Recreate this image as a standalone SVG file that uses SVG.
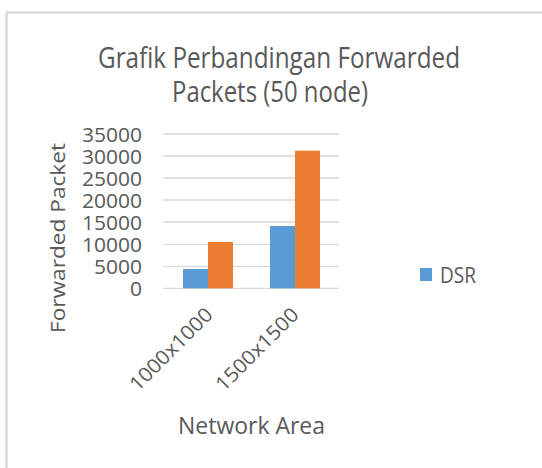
<svg xmlns="http://www.w3.org/2000/svg" width="542" height="468" viewBox="0 0 542 468">
<style>
text{font-family:"Open Sans","Liberation Sans",sans-serif;fill:#595959;}
.grid{stroke:#d9d9d9;stroke-width:1.3;}
.ylab{font-size:20.5px;text-anchor:end;}
.xlab{font-size:20px;text-anchor:end;}
.blue{fill:#5b9bd5;}
.orange{fill:#ed7d31;}
</style>
<rect x="0" y="0" width="542" height="468" fill="#ffffff"/>
<g id="frame">
<line x1="6.5" y1="12.5" x2="6.5" y2="468" stroke="#d9d9d9" stroke-width="2.5"/>
<line x1="6" y1="12.5" x2="542" y2="12.5" stroke="#d9d9d9" stroke-width="2.5"/>
</g>
<g id="title">
<text x="98" y="67.7" font-size="30" textLength="362" lengthAdjust="spacingAndGlyphs">Grafik Perbandingan Forwarded</text>
<text x="172" y="101.7" font-size="30" textLength="196" lengthAdjust="spacingAndGlyphs">Packets (50 node)</text>
</g>
<g id="gridlines">
<line class="grid" x1="163" y1="134" x2="339" y2="134"/>
<line class="grid" x1="163" y1="156" x2="339" y2="156"/>
<line class="grid" x1="163" y1="178" x2="339" y2="178"/>
<line class="grid" x1="163" y1="200" x2="339" y2="200"/>
<line class="grid" x1="163" y1="222" x2="339" y2="222"/>
<line class="grid" x1="163" y1="244.3" x2="339" y2="244.3"/>
<line class="grid" x1="163" y1="266.3" x2="339" y2="266.3"/>
<line class="grid" x1="163" y1="288.3" x2="339" y2="288.3"/>
</g>
<g id="y-axis">
<text class="ylab" x="142" y="141.5" textLength="60" lengthAdjust="spacingAndGlyphs">35000</text>
<text class="ylab" x="142" y="163.5" textLength="60" lengthAdjust="spacingAndGlyphs">30000</text>
<text class="ylab" x="142" y="185.5" textLength="60" lengthAdjust="spacingAndGlyphs">25000</text>
<text class="ylab" x="142" y="207.5" textLength="60" lengthAdjust="spacingAndGlyphs">20000</text>
<text class="ylab" x="142" y="229.5" textLength="60" lengthAdjust="spacingAndGlyphs">15000</text>
<text class="ylab" x="142" y="251.7" textLength="60" lengthAdjust="spacingAndGlyphs">10000</text>
<text class="ylab" x="142" y="273.7" textLength="48" lengthAdjust="spacingAndGlyphs">5000</text>
<text class="ylab" x="142" y="295.5" textLength="12" lengthAdjust="spacingAndGlyphs">0</text>
<text transform="translate(65,333) rotate(-90)" x="0" y="0" font-size="20" textLength="190" lengthAdjust="spacingAndGlyphs">Forwarded Packet</text>
</g>
<g id="bars">
<rect id="dsr-1000" class="blue" x="183" y="269" width="25" height="19.3"/>
<rect id="other-1000" class="orange" x="208" y="242" width="25" height="46.3"/>
<rect id="dsr-1500" class="blue" x="270" y="226" width="25" height="62.3"/>
<rect id="other-1500" class="orange" x="295" y="150.7" width="25" height="137.6"/>
</g>
<g id="x-axis">
<text class="xlab" transform="translate(214,316) rotate(-45)" textLength="108" lengthAdjust="spacingAndGlyphs">1000x1000</text>
<text class="xlab" transform="translate(300,316) rotate(-45)" textLength="108" lengthAdjust="spacingAndGlyphs">1500x1500</text>
<text x="178" y="434" font-size="24" textLength="147" lengthAdjust="spacingAndGlyphs">Network Area</text>
</g>
<g id="legend">
<rect class="blue" x="420" y="268" width="12" height="13"/>
<text x="440" y="283" font-size="22.4" textLength="36" lengthAdjust="spacingAndGlyphs">DSR</text>
</g>
</svg>
